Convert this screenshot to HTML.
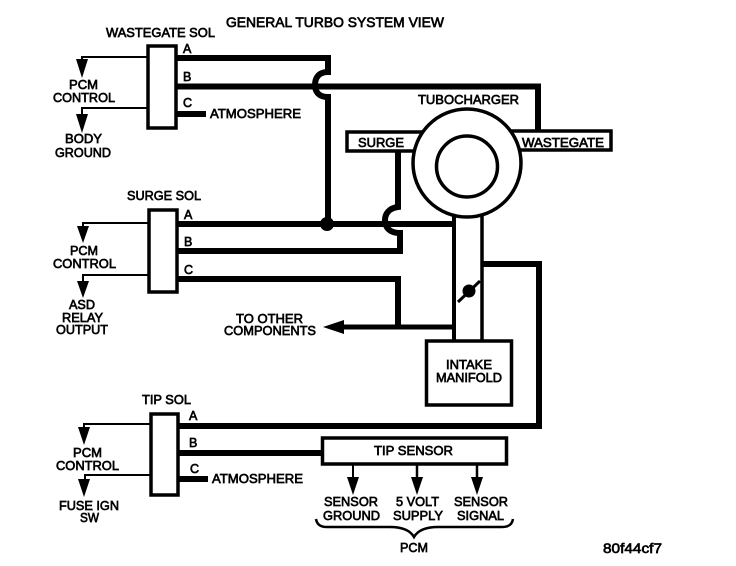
<!DOCTYPE html>
<html><head><meta charset="utf-8"><style>
html,body{margin:0;padding:0;background:#fff}
svg{display:block}
text{font-family:"Liberation Sans",sans-serif;font-size:12.5px;fill:#000;stroke:#000;stroke-width:.65px}
.l{fill:none;stroke:#000;stroke-linecap:butt;stroke-linejoin:miter}
</style></head><body>
<svg width="736" height="566" viewBox="0 0 736 566" xmlns="http://www.w3.org/2000/svg">
<!-- thick wires -->
<path class="l" stroke-width="6" d="M177 58H328V72C317 72 315 80 315 85C315 91 318 97 328 97V224"/>
<path class="l" stroke-width="6" d="M177 86.500H538V132"/>
<path class="l" stroke-width="6" d="M177 114H206"/>
<path class="l" stroke-width="6" d="M177 224H454"/>
<path class="l" stroke-width="6" d="M398 150V207C389 208 385 214 385 220C385 227 389 233 400 233V251H177"/>
<path class="l" stroke-width="6" d="M177 279H398V327"/>
<path class="l" stroke-width="5" d="M340 327H454"/>
<path class="l" stroke-width="6" d="M482 264H539V426H179"/>
<path class="l" stroke-width="6" d="M179 453H321"/>
<path class="l" stroke-width="6" d="M179 479H208"/>
<circle cx="327" cy="224" r="7" fill="#000"/>
<polygon points="323,327 344,320 344,334" fill="#000"/>
<!-- thin control wires -->
<path class="l" stroke-width="2" d="M147 57H82V70"/>
<path class="l" stroke-width="2" d="M147 108H82V120"/>
<path class="l" stroke-width="2" d="M148 223H83V232"/>
<path class="l" stroke-width="2" d="M148 275H83V284"/>
<path class="l" stroke-width="2" d="M150 424H84V432"/>
<path class="l" stroke-width="2" d="M150 475H85V482"/>
<path class="l" stroke-width="2" d="M353 465V480"/>
<path class="l" stroke-width="2.500" d="M417 465V480"/>
<path class="l" stroke-width="2.500" d="M477 465V480"/>
<g fill="#000">
<polygon points="76,59 88,59 82,78"/>
<polygon points="76,114 88,114 82,133"/>
<polygon points="77,226 89,226 83,243"/>
<polygon points="77,281 89,281 83,298"/>
<polygon points="78,427 90,427 84,445"/>
<polygon points="78,479 90,479 84,497"/>
<polygon points="347,477 359,477 353,495"/>
<polygon points="411,477 423,477 417,495"/>
<polygon points="471,477 483,477 477,495"/>
</g>
<!-- solenoid boxes -->
<g fill="#fff" stroke="#000" stroke-width="3.500">
<rect x="148" y="46" width="28" height="82"/>
<rect x="149" y="210" width="28" height="82"/>
<rect x="151" y="414" width="27" height="81"/>
<rect x="322.500" y="438" width="184" height="26"/>
<rect x="426.500" y="341" width="85" height="64"/>
<rect x="347" y="132" width="80" height="19"/>
<rect x="510" y="131" width="101" height="19"/>
</g>
<!-- tube -->
<path class="l" stroke-width="4" d="M454 212V340"/>
<path class="l" stroke-width="3.500" d="M482 212V340"/>
<circle cx="467" cy="163" r="54" fill="#fff" stroke="#000" stroke-width="3.500"/>
<circle cx="467" cy="166.500" r="30.500" fill="#fff" stroke="#000" stroke-width="3.500"/>
<path class="l" stroke-width="3" d="M458 302L480 281"/>
<circle cx="469" cy="291" r="6.500" fill="#000"/>
<!-- brace -->
<path class="l" stroke-width="2.500" d="M316 519C317 525 321 527 327 527H390C402 527 410 530 414 537C418 530 426 527 438 527H502C508 527 512 525 513 519"/>
<!-- labels -->
<text x="226" y="27" textLength="218" lengthAdjust="spacingAndGlyphs" style="font-size:13.500px">GENERAL TURBO SYSTEM VIEW</text>
<text x="106" y="37" textLength="109" lengthAdjust="spacingAndGlyphs">WASTEGATE SOL</text>
<text x="69" y="89" textLength="29" lengthAdjust="spacingAndGlyphs">PCM</text>
<text x="53" y="102" textLength="62" lengthAdjust="spacingAndGlyphs">CONTROL</text>
<text x="65" y="143" textLength="37" lengthAdjust="spacingAndGlyphs">BODY</text>
<text x="55" y="157" textLength="56" lengthAdjust="spacingAndGlyphs">GROUND</text>
<text x="183" y="53">A</text><text x="183" y="81">B</text><text x="183" y="107">C</text>
<text x="210" y="118" textLength="91" lengthAdjust="spacingAndGlyphs">ATMOSPHERE</text>
<text x="418" y="104" textLength="101" lengthAdjust="spacingAndGlyphs">TUBOCHARGER</text>
<text x="358" y="147" textLength="46" lengthAdjust="spacingAndGlyphs">SURGE</text>
<text x="522" y="147" textLength="82" lengthAdjust="spacingAndGlyphs">WASTEGATE</text>
<text x="127" y="200" textLength="74" lengthAdjust="spacingAndGlyphs">SURGE SOL</text>
<text x="184" y="219">A</text><text x="184" y="246">B</text><text x="184" y="274">C</text>
<text x="70" y="255" textLength="28" lengthAdjust="spacingAndGlyphs">PCM</text>
<text x="53" y="268" textLength="63" lengthAdjust="spacingAndGlyphs">CONTROL</text>
<text x="69" y="309" textLength="26" lengthAdjust="spacingAndGlyphs">ASD</text>
<text x="62" y="322" textLength="41" lengthAdjust="spacingAndGlyphs">RELAY</text>
<text x="56" y="334" textLength="52" lengthAdjust="spacingAndGlyphs">OUTPUT</text>
<text x="236" y="323" textLength="67" lengthAdjust="spacingAndGlyphs">TO OTHER</text>
<text x="224" y="335" textLength="92" lengthAdjust="spacingAndGlyphs">COMPONENTS</text>
<text x="446" y="369" textLength="46" lengthAdjust="spacingAndGlyphs">INTAKE</text>
<text x="436" y="382" textLength="66" lengthAdjust="spacingAndGlyphs">MANIFOLD</text>
<text x="142" y="404" textLength="49" lengthAdjust="spacingAndGlyphs">TIP SOL</text>
<text x="189" y="420">A</text><text x="189" y="447">B</text><text x="190" y="473">C</text>
<text x="73" y="457" textLength="29" lengthAdjust="spacingAndGlyphs">PCM</text>
<text x="56" y="470" textLength="63" lengthAdjust="spacingAndGlyphs">CONTROL</text>
<text x="59" y="510" textLength="60" lengthAdjust="spacingAndGlyphs">FUSE IGN</text>
<text x="80" y="522" textLength="19" lengthAdjust="spacingAndGlyphs">SW</text>
<text x="212" y="483" textLength="91" lengthAdjust="spacingAndGlyphs">ATMOSPHERE</text>
<text x="374" y="455" textLength="79" lengthAdjust="spacingAndGlyphs">TIP SENSOR</text>
<text x="324" y="506" textLength="54" lengthAdjust="spacingAndGlyphs">SENSOR</text>
<text x="323" y="520" textLength="57" lengthAdjust="spacingAndGlyphs">GROUND</text>
<text x="396" y="506" textLength="43" lengthAdjust="spacingAndGlyphs">5 VOLT</text>
<text x="393" y="520" textLength="50" lengthAdjust="spacingAndGlyphs">SUPPLY</text>
<text x="454" y="506" textLength="54" lengthAdjust="spacingAndGlyphs">SENSOR</text>
<text x="457" y="520" textLength="47" lengthAdjust="spacingAndGlyphs">SIGNAL</text>
<text x="400" y="552" textLength="28" lengthAdjust="spacingAndGlyphs">PCM</text>
<text x="603" y="553" textLength="59" lengthAdjust="spacingAndGlyphs" style="font-size:14px">80f44cf7</text>
</svg>
</body></html>
